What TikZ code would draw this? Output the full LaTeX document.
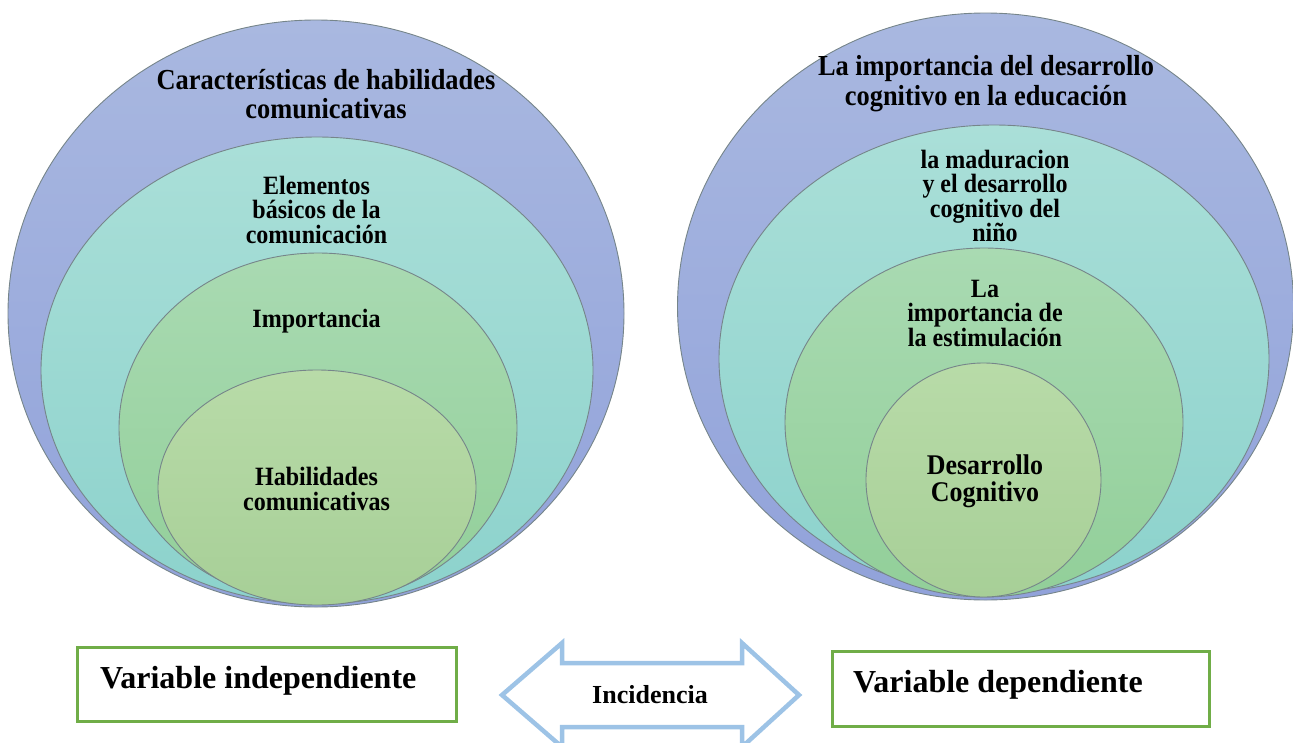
\documentclass[tikz,border=0pt]{standalone}
\usepackage{fontspec}
\setmainfont{Liberation Serif}
\newfontfamily\narrowserif[FakeStretch=0.91]{Liberation Serif}
\usetikzlibrary{shapes.geometric}
\definecolor{blueA}{HTML}{A9B8E0}
\definecolor{blueB}{HTML}{91A2DA}
\definecolor{tealA}{HTML}{AADFD8}
\definecolor{tealB}{HTML}{8CD2CC}
\definecolor{grnA}{HTML}{A9DAB2}
\definecolor{grnB}{HTML}{92CF99}
\definecolor{inA}{HTML}{B8DBA8}
\definecolor{inB}{HTML}{A7CF97}
\definecolor{rim}{HTML}{76858A}
\definecolor{boxgreen}{HTML}{70AD47}
\definecolor{arrblue}{HTML}{9DC3E6}
\tikzset{
  ring/.style={ellipse, draw=rim, line width=0.9pt, inner sep=0pt},
  ringblue/.style={ring, top color=blueA, bottom color=blueB},
  ringteal/.style={ring, top color=tealA, bottom color=tealB},
  ringgreen/.style={ring, top color=grnA, bottom color=grnB},
  ringinner/.style={ring, top color=inA, bottom color=inB},
  lbl/.style={font=\narrowserif\fontsize{26.4}{24.5}\selectfont\bfseries, align=center, inner sep=0pt},
  biglbl/.style={font=\narrowserif\fontsize{29}{29.5}\selectfont\bfseries, align=center, inner sep=0pt},
  varbox/.style={draw=boxgreen, line width=3pt, rectangle, inner sep=0pt},
  vartext/.style={font=\fontsize{32}{34}\selectfont\bfseries, inner sep=0pt},
}
\begin{document}
\begin{tikzpicture}[x=1pt,y=-1pt]
\useasboundingbox (0,0) rectangle (1293,742);
% left set
\node[ringblue, minimum width=616pt, minimum height=587pt] (L1) at (316,313.5) {};
\node[ringteal, minimum width=552pt, minimum height=467pt] (L2) at (317,370.5) {};
\node[ringgreen, minimum width=398pt, minimum height=350pt] (L3) at (318,428) {};
\node[ringinner, minimum width=318pt, minimum height=235pt] (L4) at (317,487.5) {};
\node[biglbl] (tL1) at (326,94) {Características de habilidades\\comunicativas};
\node[lbl] (tL2) at (316.5,209.5) {Elementos\\básicos de la\\comunicación};
\node[lbl, anchor=base] (tL3) at (316.5,327) {Importancia};
\node[lbl] (tL4) at (316.5,489) {Habilidades\\comunicativas};
% right set
\node[ringblue, minimum width=616pt, minimum height=587pt] (R1) at (985.5,306.5) {};
\node[ringteal, minimum width=550pt, minimum height=468pt] (R2) at (994,359) {};
\node[ringgreen, minimum width=398pt, minimum height=349pt] (R3) at (984,422.5) {};
\node[ringinner, minimum width=235pt, minimum height=234pt] (R4) at (983.5,480) {};
\node[biglbl] (tR1) at (986,83.5) {La importancia del desarrollo\\cognitivo en la educación};
\node[lbl] (tR2) at (995,196) {la maduracion\\y el desarrollo\\cognitivo del\\niño};
\node[lbl] (tR3) at (985,313.5) {La\\importancia de\\la estimulación};
\node[lbl, font=\narrowserif\fontsize{28.5}{27}\selectfont\bfseries] (tR4) at (985,481.5) {Desarrollo\\Cognitivo};
% bottom boxes
\node[varbox, minimum width=378.5pt, minimum height=74pt] (VI) at (266.75,684) {};
\node[vartext, anchor=base west] (tVI) at (100,688) {Variable independiente};
\node[varbox, minimum width=377pt, minimum height=75pt] (VD) at (1020.5,688.5) {};
\node[vartext, anchor=base west] (tVD) at (853,692) {Variable dependiente};
% double arrow
\draw[draw=arrblue, fill=white, line width=4.5pt, line join=miter]
  (502,695) -- (562,643) -- (562,663) -- (742,663) -- (742,643) -- (799,695)
  -- (742,747) -- (742,727) -- (562,727) -- (562,747) -- cycle;
\node[font=\fontsize{26}{28}\selectfont\bfseries, inner sep=0pt, anchor=base] (inc) at (650,703) {Incidencia};
\end{tikzpicture}
\end{document}
